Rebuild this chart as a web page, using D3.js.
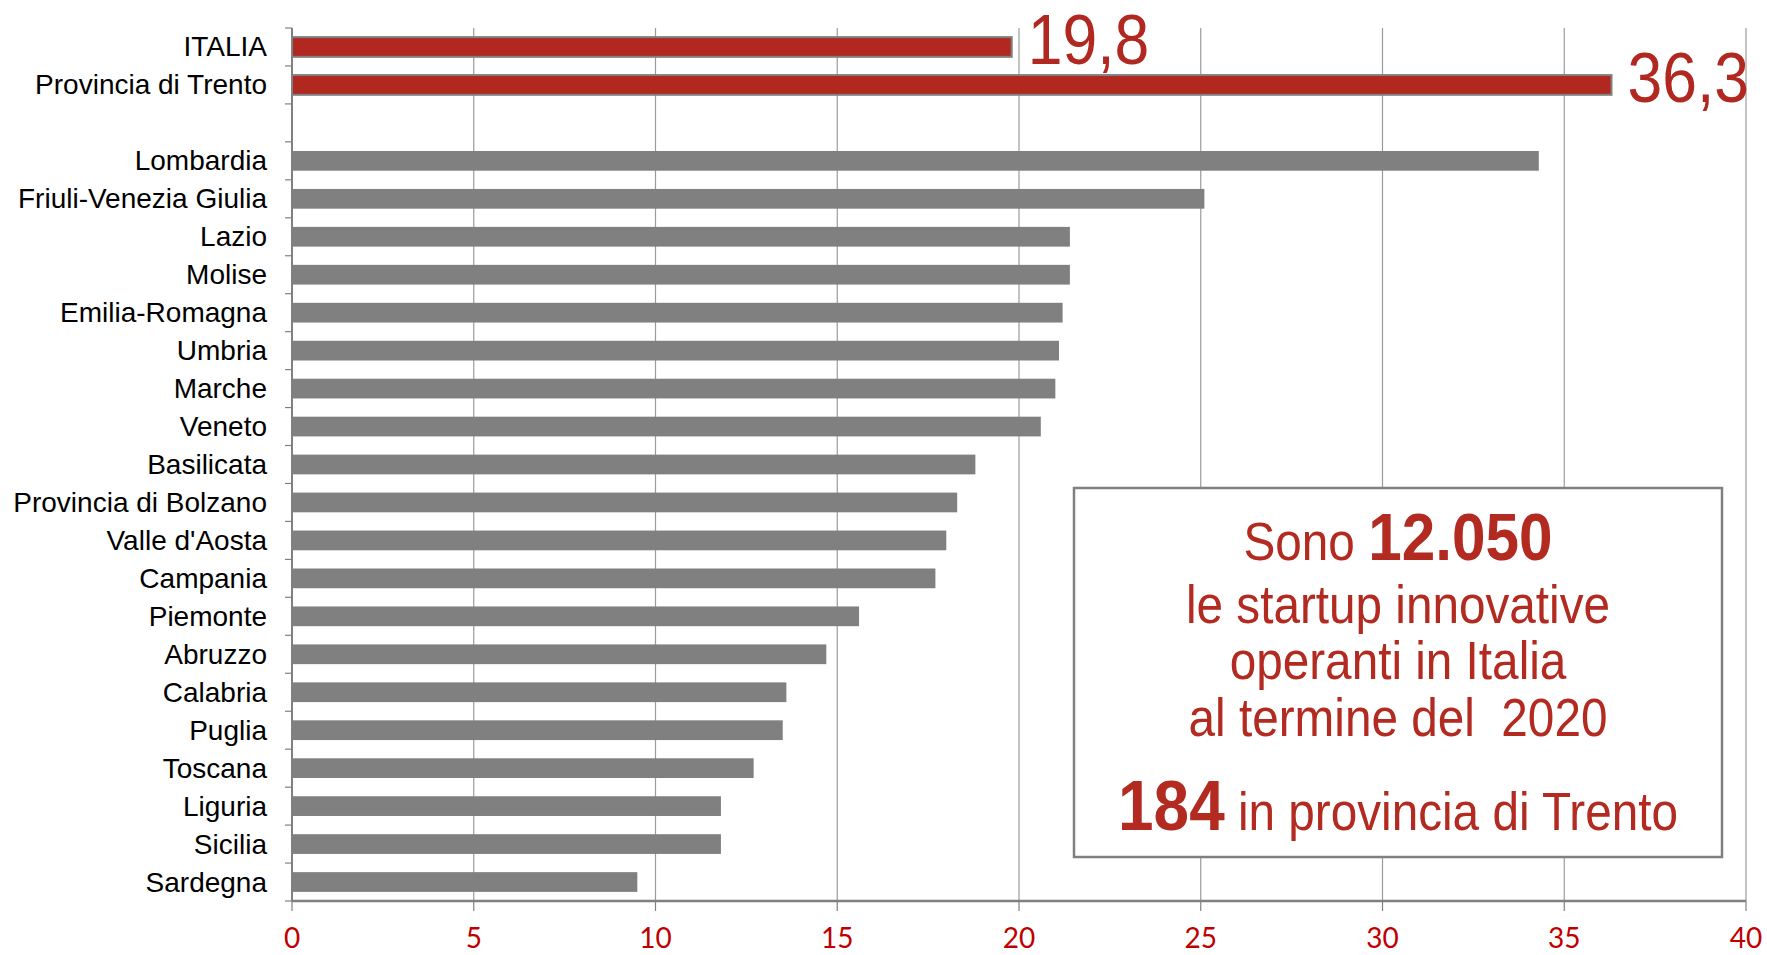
<!DOCTYPE html>
<html>
<head>
<meta charset="utf-8">
<script src="https://cdnjs.cloudflare.com/ajax/libs/d3/7.8.5/d3.min.js"></script>
<style>
  html, body { margin: 0; padding: 0; background: #fff; }
  svg { display: block; }
  .cat-label { font-family: "Liberation Sans", Arial, sans-serif; font-size: 28px; fill: #000; }
  .tick-label { font-family: Lato, "Open Sans", sans-serif; font-size: 28px; fill: #c00000; }
  .note text { font-family: "Liberation Sans", Arial, sans-serif; fill: #b22a20; white-space: pre; }
</style>
</head>
<body>
<div class="chart"></div>
<script>
// startup innovative ogni 100.000 ...
const categories = [
    'ITALIA', 'Provincia di Trento', '',
    'Lombardia', 'Friuli-Venezia Giulia', 'Lazio', 'Molise', 'Emilia-Romagna',
    'Umbria', 'Marche', 'Veneto', 'Basilicata', 'Provincia di Bolzano',
    "Valle d'Aosta", 'Campania', 'Piemonte', 'Abruzzo', 'Calabria', 'Puglia',
    'Toscana', 'Liguria', 'Sicilia', 'Sardegna'
];
const values = [
    19.8, 36.3, null,
    34.3, 25.1, 21.4, 21.4, 21.2,
    21.1, 21.0, 20.6, 18.8, 18.3,
    18.0, 17.7, 15.6, 14.7, 13.6, 13.5,
    12.7, 11.8, 11.8, 9.5
];
const highlighted = ['ITALIA', 'Provincia di Trento'];
const valueLabels = ['19,8', '36,3'];
const xTicks = [0, 5, 10, 15, 20, 25, 30, 35, 40];

const noteLines = [
    [{text: 'Sono ', bold: false}, {text: '12.050', bold: true}],
    [{text: 'le startup innovative', bold: false}],
    [{text: 'operanti in Italia', bold: false}],
    [{text: 'al termine del  2020', bold: false}],
    [{text: '184', bold: true}, {text: ' in provincia di Trento', bold: false}]
];

var totalWidth = 1767;
var totalHeight = 955;
var margin = {top: 28, right: 21, bottom: 54, left: 292};
var width = totalWidth - margin.left - margin.right;
var height = totalHeight - margin.top - margin.bottom;

var red = '#b0281f';
var grey = '#808080';

var data = categories.map((c, i) => ({name: c, value: values[i]}));

var xScale = d3.scaleLinear()
    .domain([0, 40])
    .range([0, width]);

var yScale = d3.scaleBand()
    .domain(categories)
    .range([0, height])
    .paddingInner(0.48)
    .paddingOuter(0.24);

var svg = d3.select('.chart').append('svg')
    .attr('width', totalWidth)
    .attr('height', totalHeight);

var g = svg.append('g')
    .attr('transform', `translate(${margin.left},${margin.top})`);

function drawGrid(el) {
    el.append('g')
        .attr('class', 'grid')
        .selectAll('line')
        .data(xTicks.filter(d => d > 0))
        .enter().append('line')
        .attr('x1', d => xScale(d))
        .attr('x2', d => xScale(d))
        .attr('y1', 0)
        .attr('y2', height)
        .attr('stroke', '#9b9b9b')
        .attr('stroke-width', 1.2);
}

function drawXAxis(el) {
    var axis = el.append('g')
        .attr('class', 'axis axis--x')
        .attr('transform', `translate(0,${height})`);
    axis.append('line')
        .attr('x1', 0).attr('x2', width)
        .attr('stroke', grey).attr('stroke-width', 2.5);
    axis.selectAll('.tick')
        .data(xTicks)
        .enter().append('line')
        .attr('class', 'tick')
        .attr('x1', d => xScale(d)).attr('x2', d => xScale(d))
        .attr('y1', 0).attr('y2', 10)
        .attr('stroke', grey).attr('stroke-width', 1.2);
    axis.selectAll('.tick-label')
        .data(xTicks)
        .enter().append('text')
        .attr('class', 'tick-label')
        .attr('x', d => xScale(d))
        .attr('y', 47)
        .attr('text-anchor', 'middle')
        .text(d => d);
}

function drawYAxis(el) {
    var step = yScale.step();
    var start = yScale(categories[0]) - step * yScale.paddingInner() / 2;
    var bounds = d3.range(categories.length + 1).map(i => start + i * step);
    var axis = el.append('g').attr('class', 'axis axis--y');
    axis.append('line')
        .attr('y1', 0).attr('y2', height)
        .attr('stroke', grey).attr('stroke-width', 2);
    axis.selectAll('.tick')
        .data(bounds)
        .enter().append('line')
        .attr('x1', -7).attr('x2', 0)
        .attr('y1', d => d).attr('y2', d => d)
        .attr('stroke', grey).attr('stroke-width', 1.2);
    axis.selectAll('.cat-label')
        .data(data.filter(d => d.name))
        .enter().append('text')
        .attr('class', 'cat-label')
        .attr('x', -25)
        .attr('y', d => yScale(d.name) + yScale.bandwidth() / 2)
        .attr('dy', '0.34em')
        .attr('text-anchor', 'end')
        .text(d => d.name);
}

function drawBars(el) {
    el.append('g')
        .attr('class', 'bars-g')
        .selectAll('.bar')
        .data(data.filter(d => d.value != null))
        .enter().append('rect')
        .attr('class', 'bar')
        .attr('x', 0)
        .attr('y', d => yScale(d.name))
        .attr('width', d => xScale(d.value))
        .attr('height', yScale.bandwidth())
        .attr('fill', d => highlighted.includes(d.name) ? red : grey)
        .attr('stroke', d => highlighted.includes(d.name) ? grey : 'none')
        .attr('stroke-width', 2);

    el.append('g')
        .attr('class', 'value-labels')
        .selectAll('text')
        .data(highlighted)
        .enter().append('text')
        .attr('transform', d => {
            var v = data.find(e => e.name === d).value;
            return `translate(${xScale(v) + 16},${yScale(d) + yScale.bandwidth() / 2 + 17}) scale(0.88,1)`;
        })
        .attr('font-family', '"Liberation Sans", Arial, sans-serif')
        .attr('font-size', 71)
        .attr('fill', red)
        .text((d, i) => valueLabels[i]);
}

function drawNote(el) {
    // riquadro con il testo, coordinate in pixel della pagina
    var box = {x: 1074, y: 488, w: 648, h: 369};
    var note = el.append('g').attr('class', 'note');
    note.append('rect')
        .attr('x', box.x).attr('y', box.y)
        .attr('width', box.w).attr('height', box.h)
        .attr('fill', '#fff')
        .attr('stroke', grey)
        .attr('stroke-width', 2.5);
    var baselines = [560, 623, 679, 736, 830];
    var cx = box.x + box.w / 2;
    noteLines.forEach((line, i) => {
        var t = note.append('text')
            .attr('transform', `translate(${cx},${baselines[i]}) scale(0.9,1)`)
            .attr('text-anchor', 'middle');
        line.forEach(part => {
            t.append('tspan')
                .attr('font-weight', part.bold ? 'bold' : 'normal')
                .attr('font-size', part.bold ? (i === 0 ? 67 : 71) : 53)
                .text(part.text);
        });
    });
}

drawGrid(g);
drawBars(g);
drawXAxis(g);
drawYAxis(g);
drawNote(svg);
</script>
</body>
</html>
